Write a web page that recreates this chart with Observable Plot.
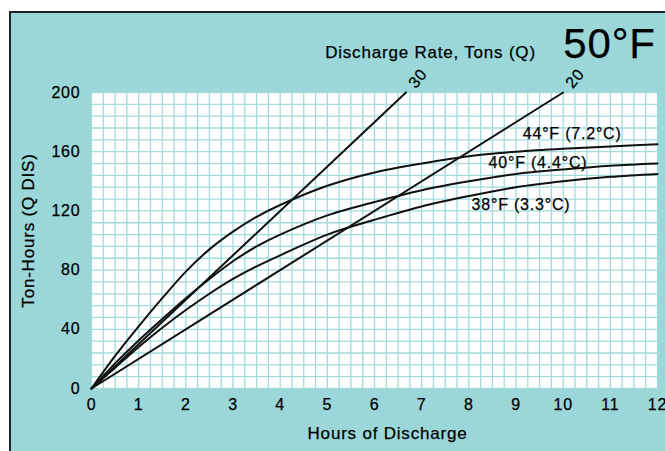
<!DOCTYPE html>
<html>
<head>
<meta charset="utf-8">
<script src="https://cdn.jsdelivr.net/npm/d3@7"></script>
<script src="https://cdn.jsdelivr.net/npm/@observablehq/plot@0.6"></script>
<style>
  html, body { margin: 0; padding: 0; background: #ffffff; }
  #wrap { position: relative; width: 665px; height: 451px; overflow: hidden; }
  #panel { position: absolute; left: 9px; top: 11px; right: 0; bottom: 0;
           background: #9bd7d8; border-left: 2.5px solid #222; border-top: 2.5px solid #222; }
  #chart { position: absolute; left: 0; top: 0; }
  #chart svg text { stroke: #000; stroke-width: 0.25px; }
</style>
</head>
<body>
<div id="wrap"><div id="panel"></div><div id="chart"></div></div>
<script>
// ---- data ----
const hours = [0, 0.5, 1, 1.5, 2, 2.5, 3, 3.5, 4, 5, 6, 7, 8, 9, 10, 11, 12];
const tonHours44F = [0, 22, 42, 61, 79, 94, 106, 116, 124, 137, 146, 152, 157, 160, 162, 163.5, 165];
const tonHours40F = [0, 17, 32.5, 47, 61, 74, 86, 96, 104, 117, 126, 134, 140, 145, 148, 150.5, 152];
const tonHours38F = [0, 14, 28, 41, 53, 64, 74, 82.5, 90, 104, 114, 123, 130, 136, 140, 143, 145];
const curveLabels = ["44°F (7.2°C)", "40°F (4.4°C)", "38°F (3.3°C)"];
const dischargeRates = [30, 20];
const xTicks = [0, 1, 2, 3, 4, 5, 6, 7, 8, 9, 10, 11, 12];
const yTicks = [0, 40, 80, 120, 160, 200];
const titleText = "50°F";
const rateTitle = "Discharge Rate, Tons (Q)";
const xTitle = "Hours of Discharge";
const yTitle = "Ton-Hours (Q DIS)";

// ---- build tables ----
const seriesValues = [tonHours44F, tonHours40F, tonHours38F];
const curves = seriesValues.flatMap((vals, i) =>
  vals.map((v, j) => ({series: curveLabels[i], h: hours[j], v})));
const rateLines = dischargeRates.flatMap(q => [
  {q, h: 0, v: 0},
  {q, h: 200 / q, v: 200}
]);
const rateEnds = dischargeRates.map(q => ({q, h: 200 / q, v: 200}));
const labelAt = (i, hr) => [{text: curveLabels[i], h: hr, v: seriesValues[i][hours.indexOf(hr)]}];

const grid = "#a3dadb";
const font = "'Liberation Sans', Arial, sans-serif";

const chart = Plot.plot({
  width: 665,
  height: 451,
  marginLeft: 91,
  marginRight: 8,
  marginTop: 92,
  marginBottom: 63,
  style: {background: "transparent", fontFamily: font, fontSize: "16px", color: "#000", letterSpacing: "0.8px"},
  x: {domain: [0, 12]},
  y: {domain: [0, 200]},
  marks: [
    Plot.frame({fill: "white", stroke: null}),
    Plot.gridX(d3.range(0, 12.001, 0.25), {stroke: grid, strokeOpacity: 1, strokeWidth: 1.3}),
    Plot.gridY(d3.range(0, 200.001, 8), {stroke: grid, strokeOpacity: 1, strokeWidth: 1.3}),
    Plot.axisX({ticks: xTicks, tickSize: 0, tickPadding: 10, label: null, fontSize: 16, tickFormat: d => String(d)}),
    Plot.axisY({ticks: yTicks, tickSize: 0, tickPadding: 11, label: null, fontSize: 16, tickFormat: d => String(d)}),
    Plot.line(curves, {x: "h", y: "v", z: "series", stroke: "#111", strokeWidth: 2, curve: "catmull-rom"}),
    Plot.line(rateLines, {x: "h", y: "v", z: "q", stroke: "#111", strokeWidth: 2}),
    Plot.text(rateEnds, {x: "h", y: "v", text: d => String(d.q), dx: 12, dy: -14, rotate: -50, fontSize: 16, fill: "#000"}),
    Plot.text(labelAt(0, 10), {x: "h", y: "v", text: "text", dx: 9, dy: -15, fontSize: 16, fill: "#000"}),
    Plot.text(labelAt(1, 9), {x: "h", y: "v", text: "text", dx: 22, dy: -11, fontSize: 16, fill: "#000"}),
    Plot.text(labelAt(2, 9), {x: "h", y: "v", text: "text", dx: 5, dy: 18, fontSize: 16, fill: "#000"}),
    Plot.text([yTitle], {text: d => d, frameAnchor: "left", textAnchor: "middle", lineAnchor: "middle", rotate: -90, dx: -63, dy: -10, fontSize: 17, fill: "#000"}),
    Plot.text([xTitle], {text: d => d, frameAnchor: "bottom", textAnchor: "middle", lineAnchor: "middle", dx: 13, dy: 45, fontSize: 17, fill: "#000"}),
    Plot.text([rateTitle], {text: d => d, frameAnchor: "top", textAnchor: "middle", lineAnchor: "middle", dx: 56, dy: -40, fontSize: 17, fill: "#000"}),
    Plot.text([titleText], {text: d => d, frameAnchor: "top-right", textAnchor: "middle", lineAnchor: "middle", dx: -48, dy: -48, fontSize: 42, fill: "#000"})
  ]
});
document.getElementById("chart").appendChild(chart);
</script>
</body>
</html>
